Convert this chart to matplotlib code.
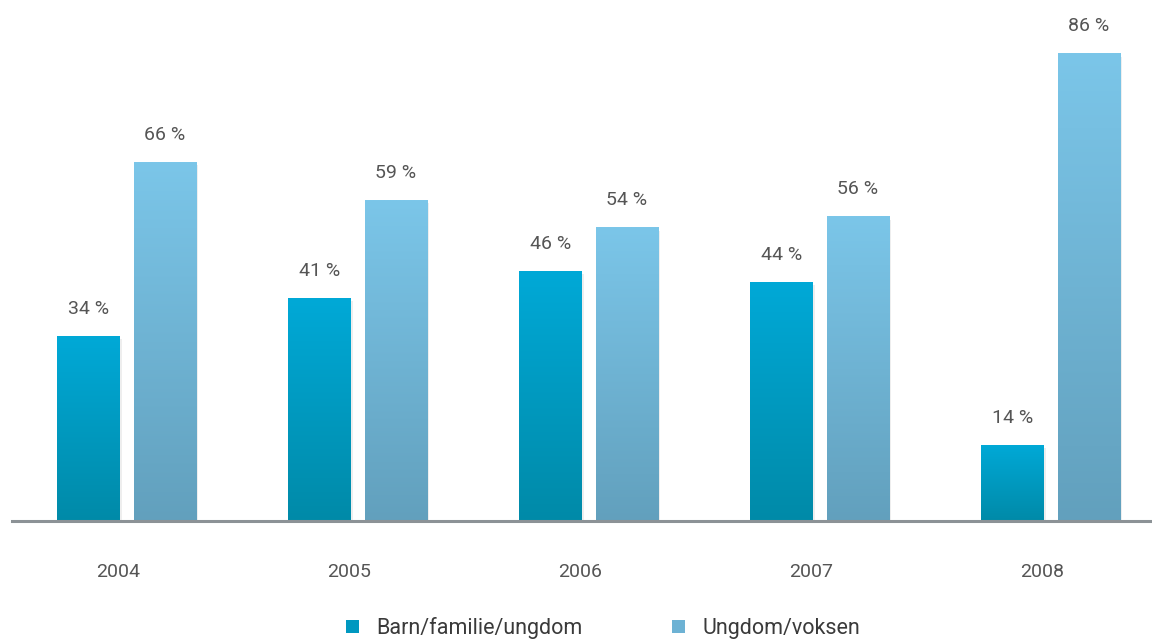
import numpy as np
import matplotlib
matplotlib.use("Agg")
import matplotlib.pyplot as plt
from matplotlib.patches import Patch
from matplotlib.colors import LinearSegmentedColormap

years = ['2004', '2005', '2006', '2007', '2008']
barn = [34, 41, 46, 44, 14]
voksen = [66, 59, 54, 56, 86]
labels = ['Barn/familie/ungdom', 'Ungdom/voksen']

plt.rcParams['font.family'] = ['Roboto', 'DejaVu Sans']

cm_dark = LinearSegmentedColormap.from_list('d', ['#008aa8', '#00a9d7'])
cm_light = LinearSegmentedColormap.from_list('l', ['#62a0bd', '#7bc6e9'])

fig = plt.figure(figsize=(11.52, 6.41), dpi=100)
ax = fig.add_axes([12/1152, 120/641, 1 - 12/1152, 521/641])

w = 0.27
x = np.arange(len(years))
grad = np.linspace(0, 1, 256).reshape(-1, 1)


def grad_bars(xs, vals, cmap):
    for xi, v in zip(xs, vals):
        # soft shadow
        ax.bar(xi + 0.01, v, w, bottom=-0.6, color='#c8c8c8', alpha=0.3, zorder=1, linewidth=0)
        b = ax.bar(xi, v, w, color='none', linewidth=0, zorder=2)[0]
        im = ax.imshow(grad, cmap=cmap, aspect='auto', origin='lower',
                       extent=(xi - w/2, xi + w/2, 0, v), zorder=2)
        im.set_clip_path(b)
        ax.annotate(f'{v} %', (xi, v), xytext=(0, 13), textcoords='offset points',
                    ha='center', va='bottom', fontsize=14, color='#555555')


grad_bars(x - 0.128, barn, cm_dark)
grad_bars(x + 0.203, voksen, cm_light)

ax.set_xlim(-0.459, 4.476)
ax.set_ylim(0, 95.8)
for s in ['top', 'right', 'left']:
    ax.spines[s].set_visible(False)
ax.spines['bottom'].set_color('#8c9296')
ax.spines['bottom'].set_linewidth(2.2)
ax.spines['bottom'].set_zorder(5)
ax.set_yticks([])
ax.set_xticks(x)
ax.set_xticklabels(years, fontsize=14, color='#555555')
ax.tick_params(axis='x', length=0, pad=30)

handles = [Patch(facecolor='#0098c0', label=labels[0]),
           Patch(facecolor='#6db2d4', label=labels[1])]
fig.legend(handles=handles, loc='center', bbox_to_anchor=(603/1152, 1 - 628/641),
           ncol=2, frameon=False, fontsize=15.5, handlelength=0.6, handleheight=0.6,
           handletextpad=0.8, columnspacing=4.2, labelcolor='#3a3a3a')

fig.savefig('out.png', dpi=100, facecolor='white')
